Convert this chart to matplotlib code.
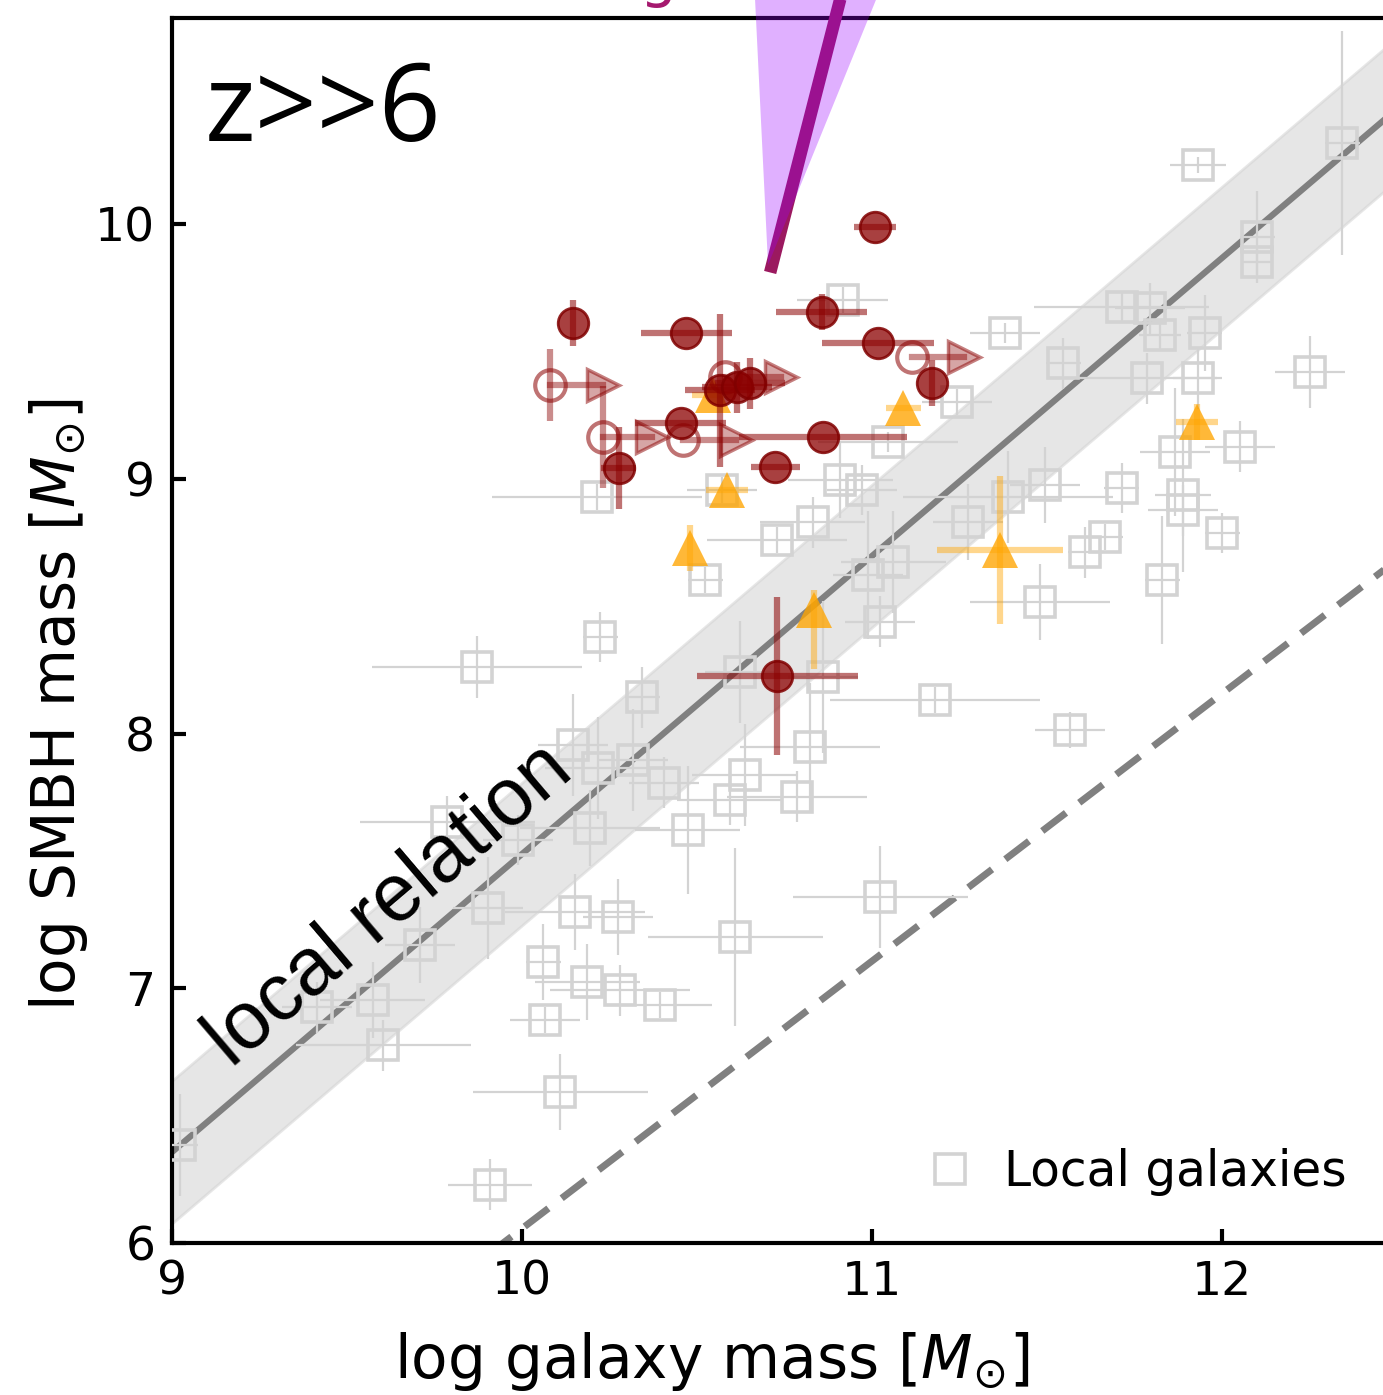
import numpy as np
import matplotlib
matplotlib.use("Agg")
import matplotlib.pyplot as plt

# local galaxies (gray squares)
loc_x = [12.343, 11.931, 12.10, 12.10, 10.917, 11.714, 11.794, 11.823, 11.951, 11.38,
         11.546, 12.251, 11.786, 11.931, 11.243, 11.046, 11.866, 12.051, 10.909, 10.971,
         11.389, 11.494, 11.714, 11.889, 11.889, 10.214, 10.571, 10.831, 11.274, 12.0,
         10.729, 11.666, 11.609, 10.523, 11.829, 11.06, 10.989, 11.48, 11.023, 10.223,
         9.871, 10.343, 10.86, 11.18, 11.566, 10.823, 10.146, 10.217, 10.317, 10.406,
         10.637, 10.594, 10.786, 10.194, 10.474, 9.786, 11.023, 9.903, 10.151, 10.274,
         10.609, 9.709, 10.06, 10.186, 10.28, 10.394, 10.066, 9.574, 9.603, 10.109,
         9.909, 9.023, 9.414, 10.623, 9.989]
loc_y = [10.318, 10.232, 9.949, 9.851, 9.702, 9.674, 9.670, 9.564, 9.572, 9.572,
         9.454, 9.419, 9.395, 9.395, 9.301, 9.144, 9.105, 9.125, 8.995, 8.956,
         8.928, 8.975, 8.964, 8.936, 8.877, 8.928, 8.956, 8.83, 8.83, 8.787,
         8.76, 8.771, 8.712, 8.603, 8.603, 8.673, 8.622, 8.516, 8.438, 8.379,
         8.261, 8.143, 8.222, 8.132, 8.014, 7.947, 7.955, 7.865, 7.896, 7.806,
         7.837, 7.739, 7.751, 7.629, 7.621, 7.653, 7.358, 7.315, 7.299, 7.28,
         7.201, 7.17, 7.103, 7.025, 6.993, 6.934, 6.875, 6.954, 6.777, 6.593,
         6.228, 6.385, 6.926, 8.241, 7.582]
loc_xerr = [0.05, 0.08, 0.05, 0.04, 0.13, 0.25, 0.1, 0.06, 0.05, 0.1,
            0.05, 0.1, 0.2, 0.07, 0.1, 0.2, 0.1, 0.1, 0.15, 0.1,
            0.3, 0.1, 0.05, 0.08, 0.1, 0.3, 0.1, 0.15, 0.1, 0.05,
            0.2, 0.05, 0.05, 0.05, 0.05, 0.15, 0.1, 0.2, 0.1, 0.05,
            0.3, 0.05, 0.1, 0.3, 0.1, 0.2, 0.1, 0.15, 0.1, 0.1,
            0.15, 0.15, 0.2, 0.2, 0.15, 0.25, 0.25, 0.1, 0.2, 0.1,
            0.25, 0.1, 0.05, 0.15, 0.2, 0.15, 0.1, 0.15, 0.25, 0.25,
            0.12, 0.05, 0.1, 0.1, 0.1]
loc_yerr = [0.44, 0.03, 0.18, 0.05, 0.05, 0.06, 0.1, 0.06, 0.15, 0.04,
            0.1, 0.14, 0.1, 0.12, 0.05, 0.04, 0.25, 0.1, 0.15, 0.1,
            0.18, 0.15, 0.1, 0.3, 0.1, 0.05, 0.05, 0.1, 0.15, 0.08,
            0.05, 0.05, 0.1, 0.05, 0.25, 0.2, 0.25, 0.15, 0.1, 0.1,
            0.12, 0.12, 0.3, 0.05, 0.07, 0.25, 0.2, 0.2, 0.2, 0.1,
            0.2, 0.1, 0.1, 0.15, 0.25, 0.1, 0.2, 0.2, 0.15, 0.15,
            0.35, 0.15, 0.15, 0.15, 0.1, 0.05, 0.05, 0.15, 0.1, 0.15,
            0.1, 0.2, 0.1, 0.2, 0.1]

# high-z quasars (filled dark red circles)
qso_x = [10.146, 10.469, 10.857, 11.009, 11.017, 11.171, 10.566, 10.614, 10.651,
         10.454, 10.277, 10.723, 10.86, 10.729]
qso_y = [9.611, 9.572, 9.655, 9.988, 9.533, 9.376, 9.348, 9.36, 9.376,
         9.219, 9.042, 9.046, 9.164, 8.226]
qso_xerr = [0.0, 0.13, 0.13, 0.06, 0.16, 0.0, 0.1, 0.1, 0.1,
            0.13, 0.05, 0.07, 0.24, 0.23]
qso_yerr = [0.09, 0.0, 0.07, 0.0, 0.0, 0.09, 0.3, 0.1, 0.1,
            0.0, 0.16, 0.0, 0.0, 0.31]

# lower limits in galaxy mass (open circles with arrows)
lim_x = [10.08, 10.231, 10.46, 11.114, 10.58]
lim_y = [9.368, 9.164, 9.152, 9.478, 9.40]
lim_yerr = [0.14, 0.2, 0.0, 0.0, 0.0]
lim_dx = [0.15, 0.14, 0.15, 0.15, 0.16]

# other high-z AGN (orange triangles)
agn_x = [10.546, 11.089, 10.586, 10.48, 10.834, 11.366, 11.929]
agn_y = [9.329, 9.278, 8.956, 8.728, 8.485, 8.72, 9.223]
agn_xerr = [0.06, 0.05, 0.06, 0.0, 0.0, 0.18, 0.06]
agn_yerr_lo = [0.0, 0.0, 0.0, 0.09, 0.23, 0.29, 0.07]
agn_yerr_hi = [0.0, 0.0, 0.0, 0.09, 0.08, 0.29, 0.07]

# local relation and offset relation
rel_norm, rel_slope, rel_scatter = 6.357, 1.17, 0.28
off_x0, off_slope = 9.946, 1.05

# growth track with uncertainty wedge
track_x = [10.709, 10.946]
track_y = [9.81, 11.08]
wedge_x = [10.703, 10.659, 11.069]
wedge_y = [9.839, 11.075, 11.075]

fig = plt.figure(figsize=(13.83, 13.95), dpi=100)
ax = fig.add_axes([172 / 1383, 152 / 1395, 1260 / 1383, 1225 / 1395])
ax.set_xlim(9, 12.6)
ax.set_ylim(6, 10.809)

xx = np.linspace(8.9, 12.7, 50)
ax.fill_between(xx, rel_norm + rel_slope * (xx - 9) - rel_scatter,
                rel_norm + rel_slope * (xx - 9) + rel_scatter,
                color='lightgray', alpha=0.55, lw=2, zorder=1)
ax.plot(xx, rel_norm + rel_slope * (xx - 9), color='gray', lw=4.5, zorder=2)
ax.plot(xx, 6 + off_slope * (xx - off_x0), color='gray', lw=5,
        ls=(0, (4.3, 2.4)), zorder=2)

ax.errorbar(loc_x, loc_y, xerr=loc_xerr, yerr=loc_yerr, fmt='none',
            ecolor='#d3d3d3', elinewidth=1.6, capsize=0, zorder=3)
ax.plot(loc_x, loc_y, 's', ms=21, mfc='none', mec='#d3d3d3', mew=2.6,
        ls='none', label='Local galaxies', zorder=3)

red = '#8b0000'
ax.errorbar(agn_x, agn_y, xerr=agn_xerr, yerr=[agn_yerr_lo, agn_yerr_hi],
            fmt='none', ecolor='orange', alpha=0.45, elinewidth=4.5,
            capsize=0, zorder=4)
ax.plot(agn_x, agn_y, '^', ms=26, color='orange', alpha=0.78, mew=0, zorder=5)

for x, y, ye, dx in zip(lim_x, lim_y, lim_yerr, lim_dx):
    if ye > 0:
        ax.errorbar(x, y, yerr=ye, fmt='none', ecolor=red, alpha=0.45,
                    elinewidth=4.5, zorder=4)
    ax.plot([x, x + dx], [y, y], color=red, alpha=0.45, lw=4.5, zorder=4)
    ax.plot(x + dx, y, '>', ms=23, mfc=(0.545, 0, 0, 0.35),
            mec=(0.545, 0, 0, 0.5), mew=2.5, zorder=5)
ax.plot(lim_x, lim_y, 'o', ms=22, mfc='none', mec=(0.545, 0, 0, 0.55),
        mew=3, ls='none', zorder=5)

ax.errorbar(qso_x, qso_y, xerr=qso_xerr, yerr=qso_yerr, fmt='none',
            ecolor=red, alpha=0.55, elinewidth=4.5, capsize=0, zorder=6)
ax.plot(qso_x, qso_y, 'o', ms=22, mfc=(0.545, 0, 0, 0.75),
        mec=(0.5, 0, 0, 0.85), mew=2, ls='none', zorder=7)

ax.plot(track_x, track_y, color='#9b195f', lw=9, solid_capstyle='butt',
        clip_on=False, zorder=8)
ax.fill(wedge_x, wedge_y, color='#9d00ff', alpha=0.31, lw=0,
        clip_on=False, zorder=9)
# label above the panel, only its descender falls inside the picture
ax.text(10.337, 10.895, 'growth', color='#a5196e', fontsize=42,
        ha='left', va='baseline', clip_on=False)

ax.text(0.026, 0.9, 'z>>6', transform=ax.transAxes, fontsize=78,
        family='Open Sans', ha='left', va='baseline')
ax.text(9.17, 6.685, 'local relation', fontsize=58, family='Liberation Sans',
        rotation=np.degrees(np.arctan(rel_slope)), transform_rotates_text=True,
        rotation_mode='anchor', ha='left', va='baseline', zorder=10)

ax.set_xticks([9, 10, 11, 12])
ax.set_yticks([6, 7, 8, 9, 10])
ax.tick_params(direction='in', length=10, width=3, labelsize=34, pad=12)
for s in ax.spines.values():
    s.set_linewidth(3)

ax.set_xlabel(r'log galaxy mass [$M_{\odot}$]', fontsize=43, x=0.4286,
              labelpad=18)
ax.set_ylabel(r'log SMBH mass [$M_{\odot}$]', fontsize=43, y=0.439,
              labelpad=4)

ax.legend(loc='center left', bbox_to_anchor=(926 / 1383, 1 - 1172 / 1395),
          bbox_transform=fig.transFigure, frameon=False, fontsize=35,
          borderpad=0, borderaxespad=0, handlelength=1.0, handletextpad=0.6)

fig.savefig('out.png', dpi=100)
